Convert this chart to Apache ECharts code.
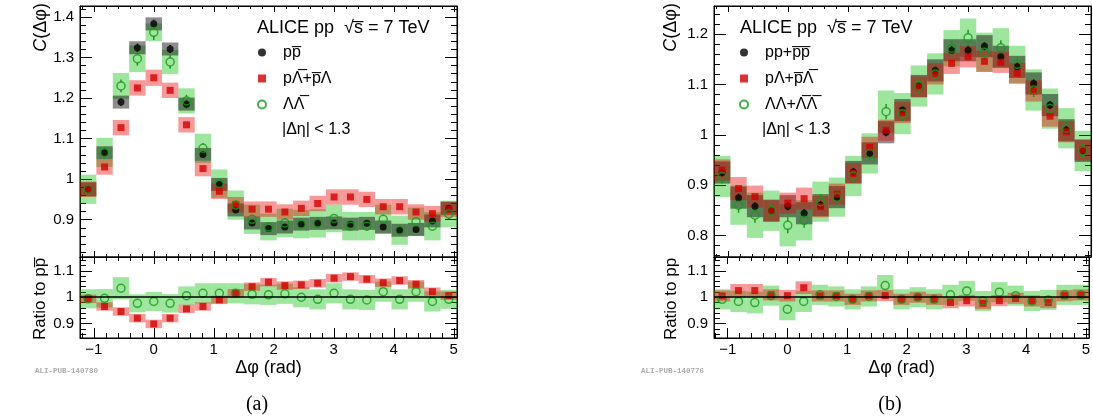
<!DOCTYPE html>
<html><head><meta charset="utf-8">
<script src="https://cdn.jsdelivr.net/npm/echarts@6/dist/echarts.min.js"></script>
<style>html,body{margin:0;padding:0;background:#fff}#c{width:1093px;height:417px}</style>
</head><body><div id="c"></div><script>
// ---------- data ----------
const binCenters = [-1.093,-0.820,-0.546,-0.273,0.000,0.273,0.546,0.820,1.093,1.366,1.639,1.912,2.185,2.459,2.732,3.005,3.278,3.551,3.824,4.098,4.371,4.644,4.917];
const binWidth = 0.2732;
const xRange = [-1.2293, 5.0538];

// panel (a) upper
const aPP     = [0.975,1.065,1.190,1.324,1.383,1.321,1.185,1.061,0.987,0.924,0.892,0.878,0.882,0.889,0.891,0.892,0.889,0.891,0.882,0.874,0.876,0.897,0.928];
const aPPsys  = [0.017,0.016,0.016,0.016,0.016,0.016,0.016,0.016,0.016,0.016,0.016,0.016,0.016,0.016,0.016,0.016,0.016,0.016,0.016,0.016,0.016,0.016,0.016];
const aPPstat = [0.008,0.008,0.009,0.010,0.010,0.010,0.009,0.008,0.008,0.007,0.007,0.007,0.007,0.007,0.007,0.007,0.007,0.007,0.007,0.007,0.007,0.007,0.008];
const aPL     = [0.975,1.030,1.127,1.225,1.250,1.219,1.134,1.026,0.970,0.937,0.926,0.926,0.919,0.928,0.940,0.956,0.956,0.950,0.932,0.932,0.919,0.915,0.926];
const aPLsys  = [0.019,0.019,0.019,0.019,0.020,0.019,0.019,0.019,0.019,0.019,0.019,0.019,0.019,0.019,0.019,0.019,0.019,0.019,0.019,0.019,0.019,0.019,0.019];
const aPLstat = [0.004,0.004,0.005,0.005,0.005,0.005,0.005,0.004,0.004,0.004,0.004,0.004,0.004,0.004,0.004,0.004,0.004,0.004,0.004,0.004,0.004,0.004,0.004];
const aLL     = [0.975,1.066,1.230,1.297,1.362,1.289,1.193,1.076,0.989,0.936,0.901,0.882,0.892,0.889,0.891,0.903,0.884,0.884,0.901,0.874,0.895,0.884,0.914];
const aLLsys  = [0.036,0.036,0.032,0.033,0.022,0.030,0.031,0.036,0.035,0.036,0.036,0.033,0.035,0.035,0.035,0.034,0.035,0.035,0.036,0.036,0.035,0.035,0.033];
const aLLstat = [0.012,0.013,0.016,0.017,0.019,0.017,0.015,0.013,0.012,0.011,0.011,0.011,0.011,0.011,0.011,0.011,0.011,0.011,0.011,0.011,0.011,0.011,0.012];
// panel (a) ratio
const aRPL     = [0.994,0.965,0.946,0.921,0.899,0.921,0.956,0.965,0.990,1.015,1.040,1.057,1.044,1.047,1.053,1.072,1.078,1.068,1.055,1.063,1.049,1.021,1.006];
const aRPLsys  = [0.016,0.016,0.016,0.016,0.016,0.016,0.016,0.016,0.016,0.016,0.016,0.016,0.016,0.016,0.016,0.016,0.016,0.016,0.016,0.016,0.016,0.016,0.016];
const aRPLstat = [0.004,0.004,0.004,0.004,0.004,0.004,0.004,0.004,0.004,0.004,0.004,0.004,0.004,0.004,0.004,0.004,0.004,0.004,0.004,0.004,0.004,0.004,0.004];
const aRLL     = [0.994,0.996,1.034,0.977,0.984,0.977,1.006,1.015,1.015,1.015,1.011,1.009,1.013,1.000,0.992,1.015,0.992,0.990,1.021,0.992,1.021,0.984,0.992];
const aRLLsys  = [0.036,0.035,0.042,0.034,0.036,0.035,0.035,0.038,0.038,0.038,0.038,0.038,0.038,0.038,0.038,0.038,0.038,0.038,0.038,0.038,0.038,0.038,0.036];
const aRLLstat = [0.012,0.012,0.013,0.013,0.013,0.013,0.012,0.012,0.012,0.012,0.012,0.012,0.012,0.012,0.012,0.012,0.012,0.012,0.012,0.012,0.012,0.012,0.012];

// panel (b) upper
const bPP     = [0.925,0.875,0.858,0.849,0.858,0.844,0.860,0.876,0.926,0.963,1.005,1.049,1.097,1.128,1.168,1.168,1.176,1.155,1.135,1.102,1.059,1.009,0.968];
const bPPsys  = [0.022,0.022,0.022,0.022,0.022,0.022,0.022,0.022,0.022,0.022,0.022,0.022,0.022,0.022,0.022,0.022,0.022,0.022,0.022,0.022,0.022,0.022,0.022];
const bPPstat = [0.008,0.008,0.008,0.008,0.008,0.008,0.008,0.008,0.008,0.008,0.008,0.008,0.008,0.008,0.008,0.008,0.008,0.008,0.008,0.008,0.008,0.008,0.008];
const bPL     = [0.930,0.893,0.877,0.849,0.864,0.873,0.857,0.882,0.923,0.975,1.009,1.044,1.095,1.121,1.142,1.155,1.146,1.144,1.122,1.087,1.037,1.006,0.970];
const bPLsys  = [0.021,0.023,0.022,0.021,0.021,0.022,0.021,0.021,0.021,0.021,0.021,0.021,0.021,0.021,0.021,0.021,0.021,0.021,0.021,0.021,0.021,0.021,0.021];
const bPLstat = [0.005,0.005,0.005,0.005,0.005,0.005,0.005,0.005,0.005,0.005,0.005,0.005,0.005,0.005,0.005,0.005,0.005,0.005,0.005,0.005,0.005,0.005,0.005];
const bLL     = [0.917,0.860,0.840,0.849,0.820,0.830,0.867,0.876,0.918,0.963,1.046,1.042,1.097,1.121,1.172,1.193,1.164,1.173,1.140,1.089,1.052,1.013,0.968];
const bLLsys  = [0.041,0.039,0.045,0.040,0.042,0.040,0.040,0.039,0.040,0.040,0.042,0.041,0.041,0.041,0.036,0.038,0.039,0.039,0.037,0.041,0.040,0.040,0.040];
const bLLstat = [0.014,0.015,0.015,0.015,0.016,0.015,0.015,0.014,0.014,0.014,0.015,0.015,0.015,0.015,0.015,0.016,0.015,0.015,0.015,0.014,0.014,0.014,0.014];
// panel (b) ratio
const bRPL     = [1.005,1.025,1.025,1.009,1.006,1.036,1.005,1.005,0.992,1.005,1.006,0.992,1.000,0.992,0.980,0.987,0.977,0.987,0.996,0.986,0.980,1.006,1.009];
const bRPLsys  = [0.021,0.025,0.025,0.021,0.022,0.024,0.021,0.021,0.021,0.021,0.021,0.021,0.021,0.021,0.022,0.022,0.022,0.021,0.021,0.021,0.021,0.021,0.021];
const bRPLstat = [0.005,0.005,0.005,0.005,0.005,0.005,0.005,0.005,0.005,0.005,0.005,0.005,0.005,0.005,0.005,0.005,0.005,0.005,0.005,0.005,0.005,0.005,0.005];
const bRLL     = [0.992,0.984,0.980,1.006,0.955,0.984,1.009,1.003,0.992,1.003,1.044,0.992,1.000,0.992,1.009,1.024,0.986,1.019,1.006,0.986,0.990,1.009,1.009];
const bRLLsys  = [0.038,0.040,0.041,0.038,0.042,0.040,0.038,0.038,0.038,0.038,0.040,0.038,0.038,0.038,0.038,0.038,0.038,0.038,0.038,0.038,0.038,0.038,0.038];
const bRLLstat = [0.014,0.015,0.015,0.014,0.016,0.015,0.014,0.014,0.014,0.014,0.015,0.014,0.014,0.014,0.014,0.015,0.014,0.014,0.014,0.014,0.014,0.014,0.014];

// labels
const aNames = ['pp\u0305', 'p\u039B\u0305+p\u0305\u039B', '\u039B\u039B\u0305'];
const bNames = ['pp+p\u0305p\u0305', 'p\u039B+p\u0305\u039B\u0305', '\u039B\u039B+\u039B\u0305\u039B\u0305'];
const xTitle = '\u0394\u03C6 (rad)';
const yTitleTop = '{i|C}(\u0394\u03C6)';
const yTitleRatioA = 'Ratio to pp\u0305';
const yTitleRatioB = 'Ratio to pp';
const headline = 'ALICE pp  \u221As\u0305 = 7 TeV';
const etaCut = '|\u0394\u03B7| < 1.3';

// ---------- styling ----------
const FONT = 'Liberation Sans';
const BLACK = '#000000', RED = '#d20000', GREEN = '#169816';
const BOX_BLACK = 'rgba(0,0,0,0.45)', BOX_RED = 'rgba(235,0,0,0.4)', BOX_GREEN = 'rgba(0,190,0,0.38)';

function fmtX(v){ const r = Math.round(v); if (Math.abs(v-r) > 1e-6) return ''; return r < 0 ? '\u2212' + (-r) : String(r); }
function fmtY(v){ const r = Math.round(v*10)/10; if (Math.abs(v-r) > 1e-6) return ''; return String(r); }

function xAx(gi, pos, labels, len, minLen, name){
  const o = {type:'value', gridIndex:gi, position:pos, min:xRange[0], max:xRange[1], splitNumber:5,
    axisLine:{show:true, onZero:false, lineStyle:{color:'#000', width:1}},
    axisTick:{show:true, inside:true, length:len, lineStyle:{color:'#000', width:1}},
    minorTick:{show:true, splitNumber:5, length:minLen, lineStyle:{color:'#000', width:1}},
    splitLine:{show:false}, minorSplitLine:{show:false},
    axisLabel:{show:labels, fontSize:15, fontFamily:FONT, color:'#000', margin:4, formatter:fmtX}};
  if (name){ o.name = name; o.nameLocation='middle'; o.nameGap=21; o.nameTextStyle={fontSize:18, fontFamily:FONT, color:'#000'}; }
  return o;
}
function yAx(gi, pos, min, max, split, labels){
  return {type:'value', gridIndex:gi, position:pos, min, max, splitNumber:split,
    axisLine:{show:true, onZero:false, lineStyle:{color:'#000', width:1}},
    axisTick:{show:true, inside:true, length:12, lineStyle:{color:'#000', width:1}},
    minorTick:{show:true, splitNumber:5, length:6, lineStyle:{color:'#000', width:1}},
    splitLine:{show:false}, minorSplitLine:{show:false},
    axisLabel:{show:labels, fontSize:15, fontFamily:FONT, color:'#000', margin:6, formatter:fmtY}};
}

function boxSeries(name, ax, vals, errs, fill){
  return {type:'custom', name, xAxisIndex:ax, yAxisIndex:ax, silent:true, encode:{x:0, y:1},
    data: binCenters.map((c,i)=>[c, vals[i], errs[i]]),
    renderItem:(params, api)=>{
      const x = api.value(0), y = api.value(1), e = api.value(2);
      const p1 = api.coord([x - binWidth/2, y + e]);
      const p2 = api.coord([x + binWidth/2, y - e]);
      const cs = params.coordSys;
      const r = echarts.graphic.clipRectByRect({x:p1[0], y:p1[1], width:p2[0]-p1[0], height:p2[1]-p1[1]},
        {x:cs.x, y:cs.y, width:cs.width, height:cs.height});
      return r ? {type:'rect', shape:r, style:{fill}} : null;
    }};
}
function statSeries(name, ax, vals, errs, color, gap, extra){
  const s = {type:'custom', name, xAxisIndex:ax, yAxisIndex:ax, silent:true, encode:{x:0, y:1},
    data: binCenters.map((c,i)=>[c, vals[i], errs[i]]),
    renderItem:(params, api)=>{
      const x = api.value(0), y = api.value(1), e = api.value(2);
      const pt = api.coord([x, y + e]), pb = api.coord([x, y - e]), pc = api.coord([x, y]);
      const ch = [];
      if (pc[1] - gap > pt[1]) ch.push({type:'line', shape:{x1:pc[0], y1:pt[1], x2:pc[0], y2:pc[1]-gap}, style:{stroke:color, lineWidth:1.5}});
      if (pb[1] > pc[1] + gap) ch.push({type:'line', shape:{x1:pc[0], y1:pc[1]+gap, x2:pc[0], y2:pb[1]}, style:{stroke:color, lineWidth:1.5}});
      return {type:'group', children:ch};
    }};
  if (extra) Object.assign(s, extra);
  return s;
}
function markerSeries(name, ax, vals, kind){
  const s = {type:'scatter', name, xAxisIndex:ax, yAxisIndex:ax, silent:true,
    data: binCenters.map((c,i)=>[c, vals[i]])};
  if (kind === 'black'){ s.symbol='circle'; s.symbolSize=7; s.itemStyle={color:BLACK}; }
  if (kind === 'red'){ s.symbol='rect'; s.symbolSize=7; s.itemStyle={color:RED}; }
  if (kind === 'green'){ s.symbol='circle'; s.symbolSize=8; s.itemStyle={color:'rgba(255,255,255,0)', borderColor:GREEN, borderWidth:1.5}; }
  return s;
}
const refLine = {markLine:{silent:true, symbol:'none', label:{show:false}, lineStyle:{color:'#000', width:1.5, type:'solid'}, data:[{yAxis:1}]}};

const series = [
  // (a) upper : axis index 0
  boxSeries('aLLbox', 0, aLL, aLLsys, BOX_GREEN),
  boxSeries('aPPbox', 0, aPP, aPPsys, BOX_BLACK),
  boxSeries('aPLbox', 0, aPL, aPLsys, BOX_RED),
  statSeries('aPPstat', 0, aPP, aPPstat, BLACK, 3),
  statSeries('aPLstat', 0, aPL, aPLstat, RED, 3),
  statSeries('aLLstat', 0, aLL, aLLstat, GREEN, 4),
  markerSeries(aNames[0], 0, aPP, 'black'),
  markerSeries(aNames[1], 0, aPL, 'red'),
  markerSeries(aNames[2], 0, aLL, 'green'),
  // (a) ratio : axis index 2
  boxSeries('aRLLbox', 2, aRLL, aRLLsys, BOX_GREEN),
  boxSeries('aRPLbox', 2, aRPL, aRPLsys, BOX_RED),
  statSeries('aRPLstat', 2, aRPL, aRPLstat, RED, 3, refLine),
  statSeries('aRLLstat', 2, aRLL, aRLLstat, GREEN, 4),
  markerSeries('aRPL', 2, aRPL, 'red'),
  markerSeries('aRLL', 2, aRLL, 'green'),
  // (b) upper : axis index 4
  boxSeries('bLLbox', 4, bLL, bLLsys, BOX_GREEN),
  boxSeries('bPPbox', 4, bPP, bPPsys, BOX_BLACK),
  boxSeries('bPLbox', 4, bPL, bPLsys, BOX_RED),
  statSeries('bPPstat', 4, bPP, bPPstat, BLACK, 3),
  statSeries('bPLstat', 4, bPL, bPLstat, RED, 3),
  statSeries('bLLstat', 4, bLL, bLLstat, GREEN, 4),
  markerSeries(bNames[0], 4, bPP, 'black'),
  markerSeries(bNames[1], 4, bPL, 'red'),
  markerSeries(bNames[2], 4, bLL, 'green'),
  // (b) ratio : axis index 6
  boxSeries('bRLLbox', 6, bRLL, bRLLsys, BOX_GREEN),
  boxSeries('bRPLbox', 6, bRPL, bRPLsys, BOX_RED),
  statSeries('bRPLstat', 6, bRPL, bRPLstat, RED, 3, refLine),
  statSeries('bRLLstat', 6, bRLL, bRLLstat, GREEN, 4),
  markerSeries('bRPL', 6, bRPL, 'red'),
  markerSeries('bRLL', 6, bRLL, 'green')
];

const gridStyle = {show:true, borderColor:'#000', borderWidth:1, backgroundColor:'rgba(0,0,0,0)'};
const legendBase = {orient:'vertical', selectedMode:false, padding:0, itemWidth:8, itemHeight:8, itemGap:7,
  textStyle:{fontSize:16, fontFamily:FONT, color:'#000', lineHeight:19, padding:[0,0,0,12]}};

const txt = (x, y, text, size) => ({type:'text', x, y, silent:true,
  style:{text, fontSize:size, fontFamily:FONT, fill:'#000', align:'left', verticalAlign:'middle'}});

const option = {
  animation:false,
  backgroundColor:'#fff',
  grid:[
    Object.assign({left:80, top:6, width:377, height:251}, gridStyle),
    Object.assign({left:80, top:257, width:377, height:81}, gridStyle),
    Object.assign({left:714, top:6, width:377, height:251}, gridStyle),
    Object.assign({left:714, top:257, width:377, height:81}, gridStyle)
  ],
  xAxis:[
    xAx(0,'bottom',false,6,3), xAx(0,'top',false,6,3),
    xAx(1,'bottom',true,10,5,xTitle), xAx(1,'top',false,7,4),
    xAx(2,'bottom',false,6,3), xAx(2,'top',false,6,3),
    xAx(3,'bottom',true,10,5,xTitle), xAx(3,'top',false,7,4)
  ],
  yAxis:[
    yAx(0,'left',0.808,1.427,5,true), yAx(0,'right',0.808,1.427,5,false),
    yAx(1,'left',0.846,1.152,3,true), yAx(1,'right',0.846,1.152,3,false),
    yAx(2,'left',0.757,1.256,5,true), yAx(2,'right',0.757,1.256,5,false),
    yAx(3,'left',0.846,1.152,3,true), yAx(3,'right',0.846,1.152,3,false)
  ],
  legend:[
    Object.assign({left:257, top:43, data:[
      {name:aNames[0], icon:'circle'}, {name:aNames[1], icon:'rect'}, {name:aNames[2], icon:'circle'}]}, legendBase),
    Object.assign({left:739, top:43, data:[
      {name:bNames[0], icon:'circle'}, {name:bNames[1], icon:'rect'}, {name:bNames[2], icon:'circle'}]}, legendBase)
  ],
  series,
  graphic:[
    txt(257, 28, headline, 18),
    txt(282, 130, etaCut, 16),
    txt(740, 28, headline, 18),
    txt(762, 130, etaCut, 16),
    {type:'text', x:41, y:3, rotation:Math.PI/2, silent:true,
      style:{text:yTitleTop, fontSize:18, fontFamily:FONT, fill:'#000', align:'right', verticalAlign:'middle',
        rich:{i:{fontStyle:'italic', fontSize:18, fontFamily:FONT, fill:'#000'}}}},
    {type:'text', x:671, y:3, rotation:Math.PI/2, silent:true,
      style:{text:yTitleTop, fontSize:18, fontFamily:FONT, fill:'#000', align:'right', verticalAlign:'middle',
        rich:{i:{fontStyle:'italic', fontSize:18, fontFamily:FONT, fill:'#000'}}}},
    {type:'text', x:40, y:299, rotation:Math.PI/2, silent:true,
      style:{text:yTitleRatioA, fontSize:17, fontFamily:FONT, fill:'#000', align:'center', verticalAlign:'middle'}},
    {type:'text', x:671, y:299, rotation:Math.PI/2, silent:true,
      style:{text:yTitleRatioB, fontSize:17, fontFamily:FONT, fill:'#000', align:'center', verticalAlign:'middle'}},
    {type:'text', x:35, y:371, silent:true, style:{text:'ALI-PUB-140780', fontSize:7.5, fontWeight:'bold', fontFamily:'Liberation Mono', fill:'#ababab', align:'left', verticalAlign:'middle'}},
    {type:'text', x:641, y:371, silent:true, style:{text:'ALI-PUB-140776', fontSize:7.5, fontWeight:'bold', fontFamily:'Liberation Mono', fill:'#ababab', align:'left', verticalAlign:'middle'}},
    {type:'text', x:257, y:405, silent:true, style:{text:'(a)', fontSize:20, fontFamily:'Liberation Serif', fill:'#000', align:'center', verticalAlign:'middle'}},
    {type:'text', x:890, y:405, silent:true, style:{text:'(b)', fontSize:20, fontFamily:'Liberation Serif', fill:'#000', align:'center', verticalAlign:'middle'}}
  ]
};
const chart = echarts.init(document.getElementById('c'), null, {renderer:'canvas'});
chart.setOption(option);
</script></body></html>
